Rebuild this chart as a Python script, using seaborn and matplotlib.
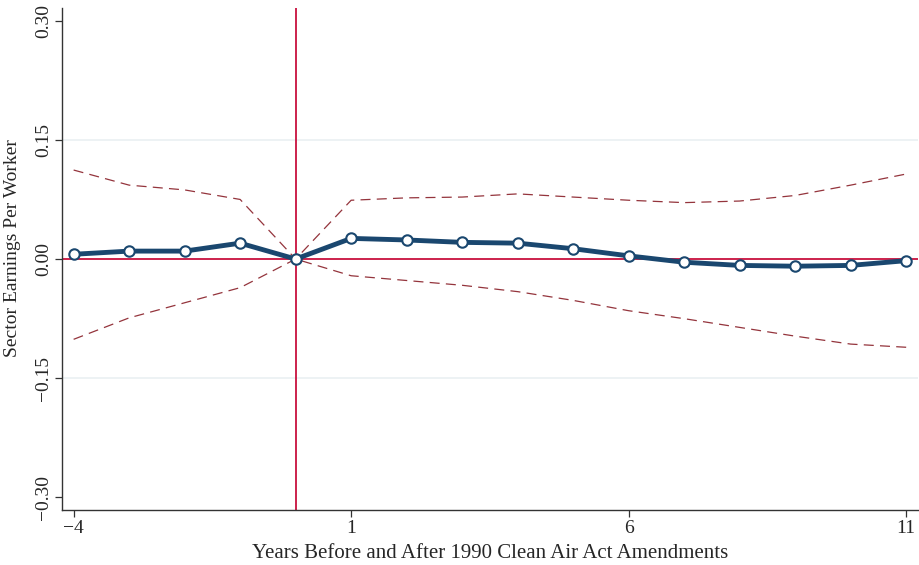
import numpy as np
import pandas as pd
import seaborn as sns
import matplotlib.pyplot as plt

# -------------------- DATOS --------------------
years = list(range(-4, 12))
coef = [0.006, 0.010, 0.010, 0.020, 0.000, 0.026, 0.024, 0.021, 0.020, 0.013,
        0.004, -0.004, -0.008, -0.009, -0.008, -0.002]
ci_upper = [0.112, 0.093, 0.087, 0.075, 0.000, 0.074, 0.077, 0.078, 0.082, 0.078,
            0.074, 0.071, 0.073, 0.080, 0.093, 0.107]
ci_lower = [-0.101, -0.074, -0.055, -0.036, 0.000, -0.021, -0.027, -0.033, -0.041, -0.052,
            -0.065, -0.075, -0.086, -0.097, -0.107, -0.111]
xticks = [-4, 1, 6, 11]
yticks = [-0.30, -0.15, 0.00, 0.15, 0.30]

df = pd.DataFrame({"year": years, "coef": coef, "upper": ci_upper, "lower": ci_lower})

# -------------------- GRAFICO --------------------
sns.set_theme(style="white")
plt.rcParams["font.family"] = ["Liberation Serif", "DejaVu Serif"]

fig, ax = plt.subplots(figsize=(9.2, 5.65), dpi=100)
fig.subplots_adjust(left=0.067, right=0.998, top=0.986, bottom=0.097)

for v in [-0.15, 0.15]:
    ax.axhline(v, color="#eaf0f2", lw=1.2, zorder=0)

red = "#c8103e"
ax.axhline(0, color=red, lw=1.3, zorder=1)
ax.axvline(0, color=red, lw=1.3, zorder=1)

ci_col = "#94343c"
sns.lineplot(data=df, x="year", y="upper", ax=ax, color=ci_col, lw=0.9,
             linestyle=(0, (8, 5)), zorder=2)
sns.lineplot(data=df, x="year", y="lower", ax=ax, color=ci_col, lw=0.9,
             linestyle=(0, (8, 5)), zorder=2)

navy = "#1a476f"
sns.lineplot(data=df, x="year", y="coef", ax=ax, color=navy, lw=3.5, marker="o",
             markersize=7.5, markerfacecolor="white", markeredgecolor=navy,
             markeredgewidth=1.5, zorder=3)

ax.set_xlim(-4.216, 11.216)
ax.set_ylim(-0.316, 0.316)
ax.set_xticks(xticks)
ax.set_xticklabels(["\u22124", "1", "6", "11"])
ax.set_yticks(yticks)
ax.set_yticklabels(["\u22120.30", "\u22120.15", "0.00", "0.15", "0.30"],
                   rotation=90, va="center")
ax.tick_params(axis="both", length=5, width=0.9, color="#333333", labelsize=14,
               direction="out", bottom=True, left=True, pad=2)
for s in ["top", "right"]:
    ax.spines[s].set_visible(False)
for s in ["left", "bottom"]:
    ax.spines[s].set_color("#333333")
    ax.spines[s].set_linewidth(1.0)

ax.set_xlabel("Years Before and After 1990 Clean Air Act Amendments", fontsize=15, labelpad=5)
ax.set_ylabel("Sector Earnings Per Worker", fontsize=14)
ax.yaxis.set_label_coords(-0.047, 0.522)

plt.savefig("out.png", dpi=100)
plt.close()
